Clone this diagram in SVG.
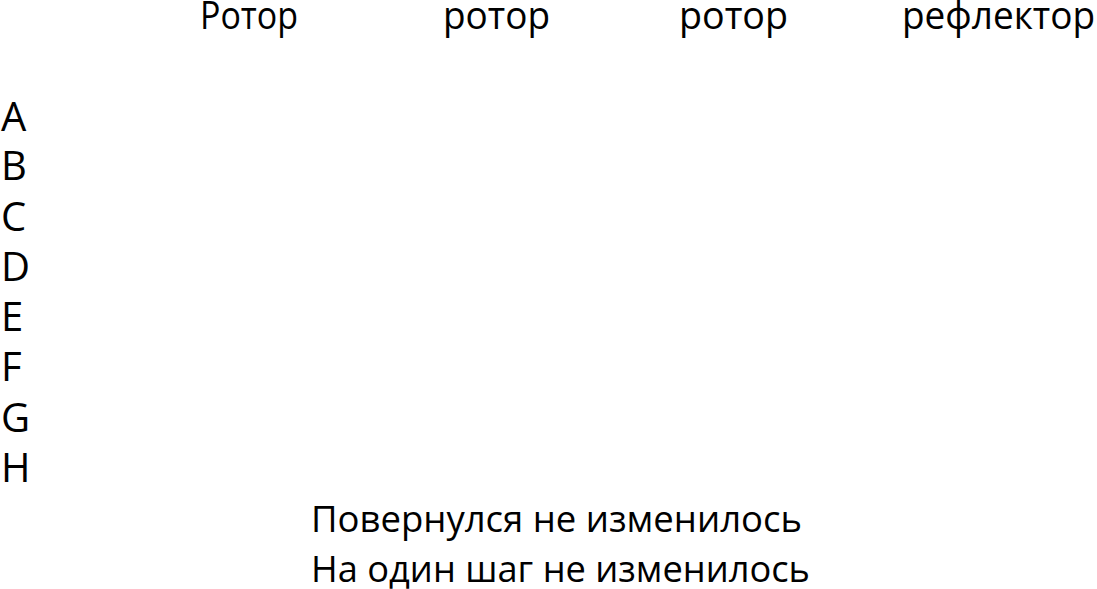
<svg xmlns="http://www.w3.org/2000/svg" width="1097" height="589" viewBox="0 0 1097 589">
<style>
text { font-family: "Open Sans", "Noto Sans", "Liberation Sans", sans-serif; fill: #000; }
.hdr { font-size: 38px; }
.row { font-size: 40px; }
.note { font-size: 37px; }
</style>
<rect width="1097" height="589" fill="#fff"/>
<g id="headers">
  <text class="hdr" x="200" y="29" textLength="98" lengthAdjust="spacingAndGlyphs">Ротор</text>
  <text class="hdr" x="443" y="29" textLength="107" lengthAdjust="spacingAndGlyphs">ротор</text>
  <text class="hdr" x="679" y="29" textLength="109" lengthAdjust="spacingAndGlyphs">ротор</text>
  <text class="hdr" x="902" y="29" textLength="193" lengthAdjust="spacingAndGlyphs">рефлектор</text>
</g>
<g id="letters">
  <text class="row" x="1" y="131">A</text>
  <text class="row" x="1" y="180">B</text>
  <text class="row" x="1" y="231">C</text>
  <text class="row" x="1" y="281">D</text>
  <text class="row" x="1" y="331">E</text>
  <text class="row" x="1" y="381">F</text>
  <text class="row" x="1" y="432">G</text>
  <text class="row" x="1" y="482">H</text>
</g>
<g id="notes">
  <text class="note" x="311" y="532" textLength="491" lengthAdjust="spacingAndGlyphs">Повернулся не изменилось</text>
  <text class="note" x="311" y="582" textLength="499" lengthAdjust="spacingAndGlyphs">На один шаг не изменилось</text>
</g>
</svg>
